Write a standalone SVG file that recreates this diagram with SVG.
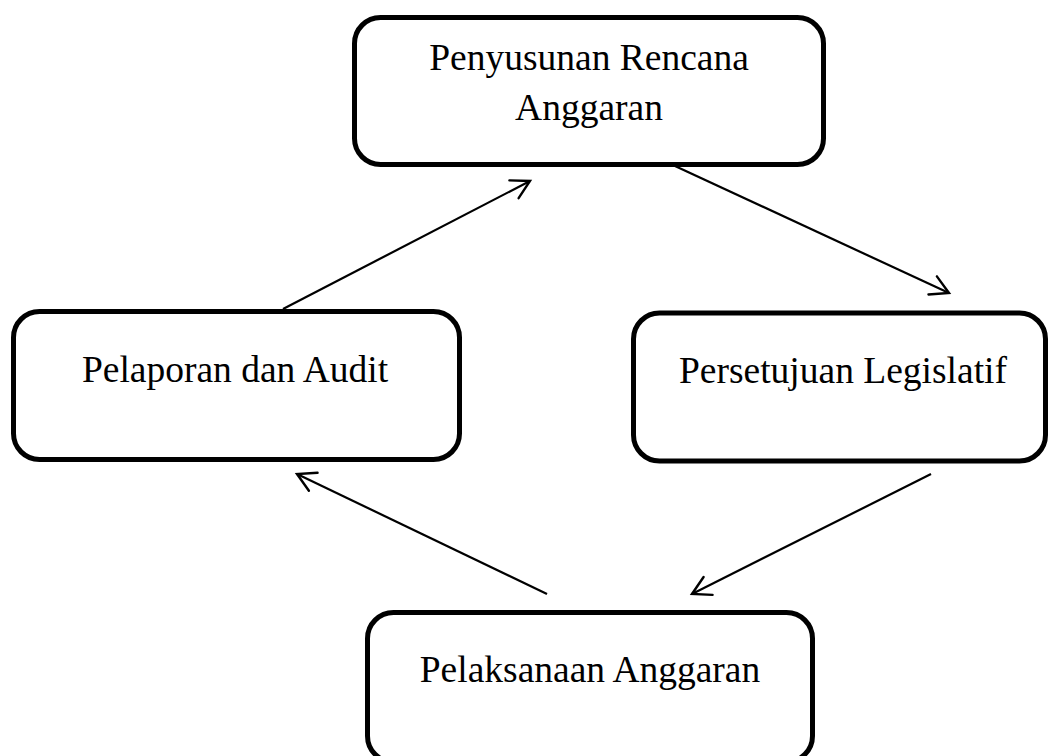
<svg xmlns="http://www.w3.org/2000/svg" width="1049" height="756" viewBox="0 0 1049 756">
<style>
.box{fill:#fff;stroke:#000;stroke-width:5}
.lbl{font-family:"Liberation Serif","Times New Roman",serif;font-size:37.5px;fill:#000;text-anchor:middle}
.con{fill:none;stroke:#000;stroke-width:2.2;marker-end:url(#arr)}
</style>
<defs>
<marker id="arr" markerUnits="userSpaceOnUse" markerWidth="30" markerHeight="30" viewBox="-22 -15 30 30" refX="0" refY="0" orient="auto" overflow="visible">
<path d="M-18,-10 L0,0 L-18,10" fill="none" stroke="#000" stroke-width="2.4" stroke-linecap="round" stroke-linejoin="miter"/>
</marker>
</defs>
<rect width="1049" height="756" fill="#fff"/>
<g id="connectors">
<line class="con" x1="283" y1="309" x2="530" y2="181"/>
<line class="con" x1="675" y1="166" x2="949" y2="293"/>
<line class="con" x1="931" y1="474" x2="692" y2="594"/>
<line class="con" x1="547" y1="594" x2="297" y2="474"/>
</g>
<g id="node-penyusunan">
<rect class="box" x="354.5" y="17.5" width="469" height="147" rx="26"/>
<text class="lbl" x="589" y="70">Penyusunan Rencana</text>
<text class="lbl" x="589" y="120">Anggaran</text>
</g>
<g id="node-persetujuan">
<rect class="box" x="633.5" y="313" width="412" height="148" rx="26"/>
<text class="lbl" x="843" y="383">Persetujuan Legislatif</text>
</g>
<g id="node-pelaporan">
<rect class="box" x="13.5" y="311.5" width="446" height="148" rx="26"/>
<text class="lbl" x="235" y="382">Pelaporan dan Audit</text>
</g>
<g id="node-pelaksanaan">
<rect class="box" x="367.5" y="612.5" width="445" height="149.5" rx="26"/>
<text class="lbl" x="590" y="682">Pelaksanaan Anggaran</text>
</g>
</svg>
